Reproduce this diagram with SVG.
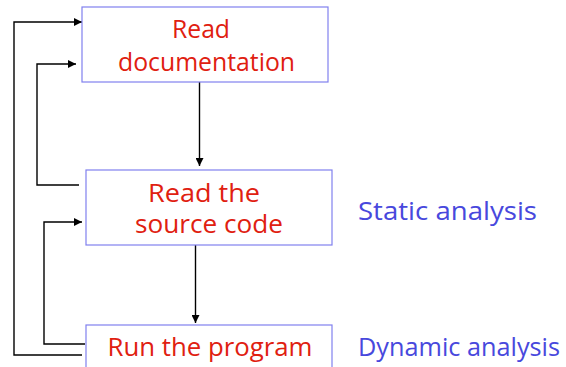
<svg xmlns="http://www.w3.org/2000/svg" width="566" height="367" viewBox="0 0 566 367">
  <style>
    .box { fill: #ffffff; stroke: #8080ee; stroke-width: 1.2; }
    .step { font-family: "Open Sans", "DejaVu Sans", sans-serif; font-size: 25px; fill: #e02010; text-anchor: middle; }
    .note { font-family: "Open Sans", "DejaVu Sans", sans-serif; font-size: 25px; fill: #4848dd; }
    .edge { fill: none; stroke: #000000; stroke-width: 1.4; }
  </style>
  <defs>
    <marker id="arrow" viewBox="0 0 10 10" refX="10" refY="5" markerWidth="8" markerHeight="8" markerUnits="userSpaceOnUse" orient="auto">
      <path d="M0,0 L10,5 L0,10 Z" fill="#000000"/>
    </marker>
  </defs>
  <rect width="566" height="367" fill="#ffffff"/>

  <g id="connectors">
    <!-- forward flow -->
    <line class="edge" x1="199.5" y1="82" x2="199.5" y2="166" marker-end="url(#arrow)"/>
    <line class="edge" x1="195.5" y1="245" x2="195.5" y2="323" marker-end="url(#arrow)"/>
    <!-- feedback loops -->
    <polyline class="edge" points="82,355 14,355 14,22 82,22" marker-end="url(#arrow)"/>
    <polyline class="edge" points="79,185 37,185 37,64 76,64" marker-end="url(#arrow)"/>
    <polyline class="edge" points="85,344 44,344 44,222 82,222" marker-end="url(#arrow)"/>
  </g>

  <g id="read-documentation">
    <rect class="box" x="82" y="7" width="246" height="75"/>
    <text class="step" x="201" y="38" textLength="58" lengthAdjust="spacingAndGlyphs">Read</text>
    <text class="step" x="206.5" y="71" textLength="177" lengthAdjust="spacingAndGlyphs">documentation</text>
  </g>

  <g id="read-source">
    <rect class="box" x="86" y="170" width="246" height="75"/>
    <text class="step" x="204" y="202" textLength="112" lengthAdjust="spacingAndGlyphs">Read the</text>
    <text class="step" x="209" y="233" textLength="148" lengthAdjust="spacingAndGlyphs">source code</text>
  </g>

  <g id="run-program">
    <rect class="box" x="86" y="325" width="246" height="60"/>
    <text class="step" x="210" y="356" textLength="205" lengthAdjust="spacingAndGlyphs">Run the program</text>
  </g>

  <g id="static-label">
    <text class="note" x="358" y="220" textLength="179" lengthAdjust="spacingAndGlyphs">Static analysis</text>
  </g>

  <g id="dynamic-label">
    <text class="note" x="358" y="356" textLength="202" lengthAdjust="spacingAndGlyphs">Dynamic analysis</text>
  </g>
</svg>
